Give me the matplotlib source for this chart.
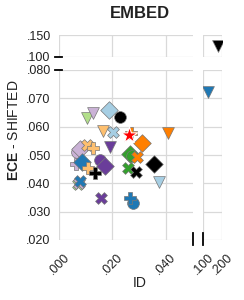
import matplotlib.pyplot as plt
from matplotlib.lines import Line2D
from matplotlib.ticker import FuncFormatter

plt.rcParams['font.family'] = ['Liberation Sans', 'DejaVu Sans']
plt.rcParams['mathtext.fontset'] = 'custom'
plt.rcParams['mathtext.rm'] = 'Liberation Sans'
plt.rcParams['mathtext.bf'] = 'Liberation Sans:bold'

# ID error vs. ECE under shift, one point per method (back to front)
id_err = [0.0068, 0.0079, 0.0104, 0.0126, 0.0065, 0.0085, 0.0110, 0.0154,
          0.0173, 0.0135, 0.0072, 0.0075, 0.0079, 0.0156, 0.0276, 0.0266,
          0.0104, 0.0129, 0.0189, 0.0229, 0.0164, 0.0201, 0.0191, 0.0272,
          0.0268, 0.0275, 0.0310, 0.0291, 0.0264, 0.0410, 0.0358, 0.0258,
          0.0288, 0.0375, 0.1247, 0.1800]
ece_shifted = [0.0510, 0.0522, 0.0535, 0.0526, 0.0470, 0.0476, 0.0453, 0.0484,
               0.0460, 0.0436, 0.0398, 0.0402, 0.0407, 0.0349, 0.0330, 0.0347,
               0.0630, 0.0647, 0.0659, 0.0635, 0.0586, 0.0582, 0.0527, 0.0576,
               0.0505, 0.0498, 0.0541, 0.0494, 0.0569, 0.0577, 0.0468, 0.0455,
               0.0441, 0.0406, 0.0723, 0.1240]

LBLUE, BLUE, LGREEN, GREEN = '#a6cee3', '#1f78b4', '#b2df8a', '#33a02c'
PEACH, ORANGE, LAV, PURPLE = '#fdbf6f', '#ff7f00', '#cab2d6', '#6a3d9a'
colors = [LAV, LAV, PEACH, PEACH, LAV, BLUE, PEACH, PURPLE,
          PURPLE, 'black', LGREEN, LAV, BLUE, PURPLE, BLUE, BLUE,
          LGREEN, LAV, LBLUE, 'black', PEACH, LBLUE, PURPLE, ORANGE,
          GREEN, GREEN, ORANGE, ORANGE, 'red', ORANGE, 'black', GREEN,
          'black', LBLUE, BLUE, 'black']
markers = ['o', 'D', 'X', 'P', 'P', 'D', 'P', 'o',
           'D', 'P', 'X', 'X', 'X', 'X', 'o', 'P',
           'v', 'v', 'D', 'o', 'v', 'X', 'v', 'P',
           'D', 'o', 'D', 'X', '*', 'v', 'D', 'X',
           'X', 'v', 'v', 'v']

W, H = 244, 300


def fx(px):
    return px / W


def fy(py):
    return 1 - py / H


fig = plt.figure(figsize=(2.44, 3.0), dpi=100)

# broken axes: [left, bottom, width, height] in pixels of the target
boxes = {
    'main': (59, 240, 134, 170),
    'top': (59, 57, 134, 22),
    'right': (203, 240, 19, 170),
    'topright': (203, 57, 19, 22),
}
lims = {
    'main': ((0, 0.0503), (0.020, 0.080)),
    'top': ((0, 0.0503), (0.100, 0.150)),
    'right': ((0.100, 0.200), (0.020, 0.080)),
    'topright': ((0.100, 0.200), (0.100, 0.150)),
}
xticks = {'main': [0, 0.02, 0.04], 'top': [0, 0.02, 0.04],
          'right': [0.1, 0.2], 'topright': [0.1, 0.2]}
yticks = {'main': [0.02, 0.03, 0.04, 0.05, 0.06, 0.07, 0.08],
          'top': [0.10, 0.15], 'right': [0.02, 0.03, 0.04, 0.05, 0.06, 0.07, 0.08],
          'topright': [0.10, 0.15]}

fmt = FuncFormatter(lambda v, _: f"{v:.3f}".lstrip('0'))

for name, (l, b, w, h) in boxes.items():
    ax = fig.add_axes([fx(l), fy(b), w / W, h / H])
    for x, y, c, m in zip(id_err, ece_shifted, colors, markers):
        if m == '*':
            ax.scatter(x, y, s=150, marker=m, color=c, edgecolor='white', linewidth=0.8, zorder=3)
        elif m == 'D':
            ax.scatter(x, y, s=80, marker=m, color=c, edgecolor='#777777', linewidth=0.5, zorder=3)
        else:
            ax.scatter(x, y, s=72, marker=m, color=c, edgecolor='#777777', linewidth=0.5, zorder=3)
    ax.set_xlim(*lims[name][0])
    ax.set_ylim(*lims[name][1])
    ax.set_xticks(xticks[name])
    ax.set_yticks(yticks[name])
    ax.xaxis.set_major_formatter(fmt)
    ax.yaxis.set_major_formatter(fmt)
    ax.grid(True, color='#d9d9d9', linewidth=0.9)
    ax.set_axisbelow(True)
    for s in ax.spines.values():
        s.set_visible(False)
    ax.tick_params(length=0, labelsize=9, colors='#222222')
    ax.tick_params(axis='y', pad=6)
    ax.tick_params(axis='x', pad=8)
    if name in ('main', 'right'):
        for lab in ax.get_xticklabels():
            lab.set_rotation(45)
    else:
        ax.tick_params(labelbottom=False)
    if name in ('right', 'topright'):
        ax.tick_params(labelleft=False)

# break marks
for y in (57, 70):
    fig.add_artist(Line2D([fx(55), fx(62)], [fy(y), fy(y)], color='black', lw=1.3))
for x in (193, 203):
    fig.add_artist(Line2D([fx(x), fx(x)], [fy(233), fy(245)], color='black', lw=1.3))
for x, y in ((193, 35), (203, 35), (222, 57), (222, 70)):
    fig.add_artist(Line2D([fx(x) - 0.002, fx(x) + 0.002], [fy(y), fy(y)], color='black', lw=1.0))

fig.text(fx(140), fy(14), 'EMBED', fontsize=12, fontweight='bold', color='#222222',
         ha='center', va='center')
fig.text(fx(14), fy(130), r'$\mathbf{ECE}$ - SHIFTED', fontsize=10, rotation=90,
         ha='center', va='center', color='#222222')
fig.text(fx(140), fy(283), 'ID', fontsize=10, ha='center', va='center', color='#222222')

fig.savefig('out.png', dpi=100)
